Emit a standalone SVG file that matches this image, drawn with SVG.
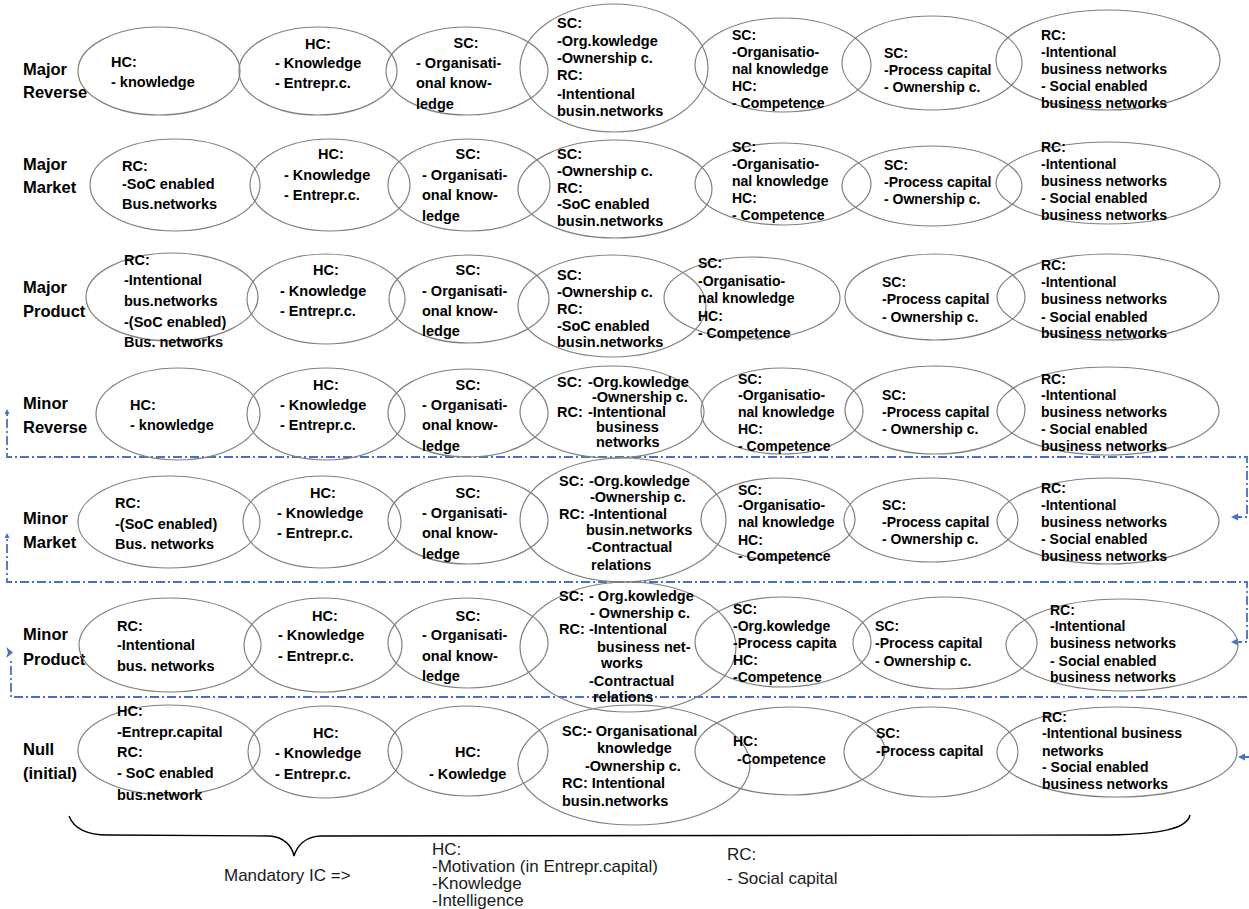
<svg xmlns="http://www.w3.org/2000/svg" width="1249" height="909" viewBox="0 0 1249 909">
<style>
.e{fill:none;stroke:#808080;stroke-width:1.2}
text{font-family:"Liberation Sans",Arial,sans-serif;font-weight:bold;font-size:14.5px;fill:#000}
.s{font-size:14px}
.m{text-anchor:middle}
.lbl{font-size:16.5px}
.n{font-weight:normal;font-size:17px;fill:#1a1a1a}
.d{fill:none;stroke:#4472C4;stroke-width:1.8;stroke-dasharray:9 3 2 3}
.ah{fill:#4472C4}
.br{fill:none;stroke:#000;stroke-width:1.4}
</style>
<g id="labels">
<text class="lbl" x="23" y="75">Major</text><text class="lbl" x="23" y="98">Reverse</text>
<text class="lbl" x="23" y="170">Major</text><text class="lbl" x="23" y="193">Market</text>
<text class="lbl" x="23" y="293">Major</text><text class="lbl" x="23" y="317">Product</text>
<text class="lbl" x="23" y="409">Minor</text><text class="lbl" x="23" y="433">Reverse</text>
<text class="lbl" x="23" y="524">Minor</text><text class="lbl" x="23" y="548">Market</text>
<text class="lbl" x="23" y="640">Minor</text><text class="lbl" x="23" y="665">Product</text>
<text class="lbl" x="23" y="755">Null</text><text class="lbl" x="23" y="779">(initial)</text>
</g>
<g id="connectors">
<path class="d" d="M1233 517 L1247 517 L1247 457 L7 457 L7 412"/>
<path class="d" d="M1233 642 L1247 642 L1247 582 L7 582 L7 536"/>
<path class="d" d="M1240 757 L1256 757 L1256 697 L11 697 L11 658"/>
<polygon class="ah" points="1231,517 1238,513.5 1238,520.5"/>
<polygon class="ah" points="1231,642 1238,638.5 1238,645.5"/>
<polygon class="ah" points="1238,757 1245,753.5 1245,760.5"/>
<polygon class="ah" points="7,409 4.5,414 9.5,414"/>
<polygon class="ah" points="7,533 4.5,538 9.5,538"/>
<polygon class="ah" points="6,647 13,652.5 6,658 8,652.5"/>
</g>
<g id="brace">
<path class="br" d="M69 816 C74 829 88 835 108 835 L270 836 C284 837 292 846 294 856 C297 846 305 837 320 836 L1110 835 C1160 834 1187 829 1190 815"/>
</g>
<g id="legend">
<text class="n" x="224" y="881">Mandatory IC =&gt;</text>
<text class="n" x="432" y="855">HC:</text>
<text class="n" x="432" y="872">-Motivation (in Entrepr.capital)</text>
<text class="n" x="432" y="889">-Knowledge</text>
<text class="n" x="432" y="906">-Intelligence</text>
<text class="n" x="727" y="860">RC:</text>
<text class="n" x="727" y="884">- Social capital</text>
</g>
<!-- Row 1 -->
<g id="n1_1"><ellipse class="e" cx="159" cy="71" rx="81" ry="44"/><text x="111" y="67">HC:</text><text x="111" y="87">- knowledge</text></g>
<g id="n1_2"><ellipse class="e" cx="318" cy="71" rx="79" ry="44"/><text class="m" x="318" y="49">HC:</text><text x="275" y="68">- Knowledge</text><text x="275" y="88">- Entrepr.c.</text></g>
<g id="n1_3"><ellipse class="e" cx="467" cy="71" rx="81" ry="44"/><text class="m" x="466" y="48">SC:</text><text x="416" y="68">- Organisati-</text><text x="416" y="88">onal know-</text><text x="416" y="109">ledge</text></g>
<g id="n1_4"><ellipse class="e" cx="614" cy="68" rx="94" ry="64"/><text x="557" y="28">SC:</text><text x="557" y="46">-Org.kowledge</text><text x="557" y="63">-Ownership c.</text><text x="557" y="80">RC:</text><text x="557" y="99">-Intentional</text><text x="557" y="116">busin.networks</text></g>
<g id="n1_5"><ellipse class="e" cx="783" cy="65" rx="88" ry="47"/><text class="s" x="732" y="40">SC:</text><text class="s" x="732" y="57">-Organisatio-</text><text class="s" x="732" y="74">nal knowledge</text><text class="s" x="732" y="91">HC:</text><text class="s" x="732" y="108">- Competence</text></g>
<g id="n1_6"><ellipse class="e" cx="932" cy="63" rx="90" ry="47"/><text class="s" x="884" y="58">SC:</text><text class="s" x="884" y="75">-Process capital</text><text class="s" x="884" y="92">- Ownership c.</text></g>
<g id="n1_7"><ellipse class="e" cx="1108" cy="60" rx="112" ry="50"/><text class="s" x="1041" y="40">RC:</text><text class="s" x="1041" y="57">-Intentional</text><text class="s" x="1041" y="74">business networks</text><text class="s" x="1041" y="91">- Social enabled</text><text class="s" x="1041" y="108">business networks</text></g>
<!-- Row 2 -->
<g id="n2_1"><ellipse class="e" cx="175" cy="185" rx="85" ry="46"/><text x="122" y="171">RC:</text><text x="122" y="189">-SoC enabled</text><text x="122" y="209">Bus.networks</text></g>
<g id="n2_2"><ellipse class="e" cx="330" cy="185" rx="80" ry="46"/><text class="m" x="331" y="159">HC:</text><text x="284" y="180">- Knowledge</text><text x="284" y="200">- Entrepr.c.</text></g>
<g id="n2_3"><ellipse class="e" cx="469" cy="185" rx="81" ry="46"/><text class="m" x="468" y="159">SC:</text><text x="422" y="180">- Organisati-</text><text x="422" y="200">onal know-</text><text x="422" y="221">ledge</text></g>
<g id="n2_4"><ellipse class="e" cx="615" cy="189" rx="97" ry="49"/><text x="557" y="159">SC:</text><text x="557" y="176">-Ownership c.</text><text x="557" y="193">RC:</text><text x="557" y="209">-SoC enabled</text><text x="557" y="226">busin.networks</text></g>
<g id="n2_5"><ellipse class="e" cx="783" cy="184" rx="88" ry="41"/><text class="s" x="732" y="152">SC:</text><text class="s" x="732" y="169">-Organisatio-</text><text class="s" x="732" y="186">nal knowledge</text><text class="s" x="732" y="203">HC:</text><text class="s" x="732" y="220">- Competence</text></g>
<g id="n2_6"><ellipse class="e" cx="932" cy="186" rx="90" ry="40"/><text class="s" x="884" y="170">SC:</text><text class="s" x="884" y="187">-Process capital</text><text class="s" x="884" y="204">- Ownership c.</text></g>
<g id="n2_7"><ellipse class="e" cx="1108" cy="183" rx="112" ry="41"/><text class="s" x="1041" y="152">RC:</text><text class="s" x="1041" y="169">-Intentional</text><text class="s" x="1041" y="186">business networks</text><text class="s" x="1041" y="203">- Social enabled</text><text class="s" x="1041" y="220">business networks</text></g>
<!-- Row 3 -->
<g id="n3_1"><ellipse class="e" cx="172" cy="297" rx="86" ry="44"/><text x="124" y="265">RC:</text><text x="124" y="285">-Intentional</text><text x="124" y="306">bus.networks</text><text x="124" y="327">-(SoC enabled)</text><text x="124" y="347">Bus. networks</text></g>
<g id="n3_2"><ellipse class="e" cx="326" cy="299" rx="79" ry="45"/><text class="m" x="326" y="275">HC:</text><text x="280" y="296">- Knowledge</text><text x="280" y="316">- Entrepr.c.</text></g>
<g id="n3_3"><ellipse class="e" cx="469" cy="299" rx="80" ry="44"/><text class="m" x="468" y="275">SC:</text><text x="422" y="296">- Organisati-</text><text x="422" y="316">onal know-</text><text x="422" y="336">ledge</text></g>
<g id="n3_4"><ellipse class="e" cx="612" cy="306" rx="94" ry="51"/><text x="557" y="280">SC:</text><text x="557" y="297">-Ownership c.</text><text x="557" y="314">RC:</text><text x="557" y="331">-SoC enabled</text><text x="557" y="347">busin.networks</text></g>
<g id="n3_5"><ellipse class="e" cx="752" cy="298" rx="88" ry="41"/><text class="s" x="698" y="268">SC:</text><text class="s" x="698" y="286">-Organisatio-</text><text class="s" x="698" y="303">nal knowledge</text><text class="s" x="698" y="321">HC:</text><text class="s" x="698" y="338">- Competence</text></g>
<g id="n3_6"><ellipse class="e" cx="935" cy="297" rx="90" ry="43"/><text class="s" x="882" y="287">SC:</text><text class="s" x="882" y="304">-Process capital</text><text class="s" x="882" y="322">- Ownership c.</text></g>
<g id="n3_7"><ellipse class="e" cx="1108" cy="297" rx="111" ry="43"/><text class="s" x="1041" y="270">RC:</text><text class="s" x="1041" y="287">-Intentional</text><text class="s" x="1041" y="304">business networks</text><text class="s" x="1041" y="322">- Social enabled</text><text class="s" x="1041" y="338">business networks</text></g>
<!-- Row 4 -->
<g id="n4_1"><ellipse class="e" cx="178" cy="414" rx="82" ry="46"/><text x="130" y="410">HC:</text><text x="130" y="430">- knowledge</text></g>
<g id="n4_2"><ellipse class="e" cx="326" cy="414" rx="79" ry="46"/><text class="m" x="326" y="390">HC:</text><text x="280" y="410">- Knowledge</text><text x="280" y="430">- Entrepr.c.</text></g>
<g id="n4_3"><ellipse class="e" cx="468" cy="413" rx="80" ry="44"/><text class="m" x="468" y="390">SC:</text><text x="422" y="410">- Organisati-</text><text x="422" y="430">onal know-</text><text x="422" y="451">ledge</text></g>
<g id="n4_4"><ellipse class="e" cx="612" cy="412" rx="92" ry="46"/><text x="557" y="387">SC:</text><text x="588" y="387">-Org.kowledge</text><text x="592" y="402">-Ownership c.</text><text x="557" y="417">RC:</text><text x="588" y="417">-Intentional</text><text x="596" y="432">business</text><text x="596" y="447">networks</text></g>
<g id="n4_5"><ellipse class="e" cx="782" cy="411" rx="81" ry="43"/><text class="s" x="738" y="384">SC:</text><text class="s" x="738" y="400">-Organisatio-</text><text class="s" x="738" y="417">nal knowledge</text><text class="s" x="738" y="434">HC:</text><text class="s" x="738" y="451">- Competence</text></g>
<g id="n4_6"><ellipse class="e" cx="935" cy="410" rx="90" ry="44"/><text class="s" x="882" y="400">SC:</text><text class="s" x="882" y="417">-Process capital</text><text class="s" x="882" y="434">- Ownership c.</text></g>
<g id="n4_7"><ellipse class="e" cx="1108" cy="411" rx="111" ry="44"/><text class="s" x="1041" y="384">RC:</text><text class="s" x="1041" y="400">-Intentional</text><text class="s" x="1041" y="417">business networks</text><text class="s" x="1041" y="434">- Social enabled</text><text class="s" x="1041" y="451">business networks</text></g>
<!-- Row 5 -->
<g id="n5_1"><ellipse class="e" cx="169" cy="522" rx="91" ry="46"/><text x="115" y="508">RC:</text><text x="115" y="529">-(SoC enabled)</text><text x="115" y="549">Bus. networks</text></g>
<g id="n5_2"><ellipse class="e" cx="322" cy="522" rx="79" ry="46"/><text class="m" x="323" y="498">HC:</text><text x="277" y="518">- Knowledge</text><text x="277" y="538">- Entrepr.c.</text></g>
<g id="n5_3"><ellipse class="e" cx="468" cy="520" rx="80" ry="44"/><text class="m" x="468" y="498">SC:</text><text x="422" y="518">- Organisati-</text><text x="422" y="538">onal know-</text><text x="422" y="559">ledge</text></g>
<g id="n5_4"><ellipse class="e" cx="623" cy="520" rx="103" ry="62"/><text x="559" y="486">SC:</text><text x="589" y="486">-Org.kowledge</text><text x="590" y="502">-Ownership c.</text><text x="559" y="519">RC:</text><text x="589" y="519">-Intentional</text><text x="586" y="535">busin.networks</text><text x="587" y="552">-Contractual</text><text x="591" y="570">relations</text></g>
<g id="n5_5"><ellipse class="e" cx="778" cy="519" rx="77" ry="41"/><text class="s" x="738" y="495">SC:</text><text class="s" x="738" y="510">-Organisatio-</text><text class="s" x="738" y="527">nal knowledge</text><text class="s" x="738" y="545">HC:</text><text class="s" x="738" y="561">- Competence</text></g>
<g id="n5_6"><ellipse class="e" cx="931" cy="520" rx="87" ry="42"/><text class="s" x="882" y="510">SC:</text><text class="s" x="882" y="527">-Process capital</text><text class="s" x="882" y="544">- Ownership c.</text></g>
<g id="n5_7"><ellipse class="e" cx="1108" cy="521" rx="111" ry="43"/><text class="s" x="1041" y="493">RC:</text><text class="s" x="1041" y="510">-Intentional</text><text class="s" x="1041" y="527">business networks</text><text class="s" x="1041" y="544">- Social enabled</text><text class="s" x="1041" y="561">business networks</text></g>
<!-- Row 6 -->
<g id="n6_1"><ellipse class="e" cx="170" cy="645" rx="91" ry="47"/><text x="117" y="631">RC:</text><text x="117" y="650">-Intentional</text><text x="117" y="671">bus. networks</text></g>
<g id="n6_2"><ellipse class="e" cx="323" cy="645" rx="79" ry="47"/><text class="m" x="325" y="621">HC:</text><text x="278" y="640">- Knowledge</text><text x="278" y="661">- Entrepr.c.</text></g>
<g id="n6_3"><ellipse class="e" cx="468" cy="643" rx="80" ry="45"/><text class="m" x="468" y="621">SC:</text><text x="422" y="640">- Organisati-</text><text x="422" y="661">onal know-</text><text x="422" y="681">ledge</text></g>
<g id="n6_4"><ellipse class="e" cx="628" cy="647" rx="108" ry="65"/><text x="559" y="601">SC:</text><text x="589" y="601">- Org.kowledge</text><text x="590" y="618">- Ownership c.</text><text x="559" y="634">RC:</text><text x="589" y="634">-Intentional</text><text x="597" y="652">business net-</text><text x="601" y="668">works</text><text x="589" y="686">-Contractual</text><text x="593" y="702">relations</text></g>
<g id="n6_5"><ellipse class="e" cx="783" cy="642" rx="88" ry="45"/><text class="s" x="733" y="614">SC:</text><text class="s" x="733" y="631">-Org.kowledge</text><text class="s" x="733" y="648">-Process capita</text><text class="s" x="733" y="665">HC:</text><text class="s" x="733" y="682">-Competence</text></g>
<g id="n6_6"><ellipse class="e" cx="945" cy="643" rx="92" ry="46"/><text class="s" x="875" y="631">SC:</text><text class="s" x="875" y="648">-Process capital</text><text class="s" x="875" y="666">- Ownership c.</text></g>
<g id="n6_7"><ellipse class="e" cx="1122" cy="645" rx="116" ry="46"/><text class="s" x="1050" y="615">RC:</text><text class="s" x="1050" y="631">-Intentional</text><text class="s" x="1050" y="648">business networks</text><text class="s" x="1050" y="666">- Social enabled</text><text class="s" x="1050" y="682">business networks</text></g>
<!-- Row 7 -->
<g id="n7_1"><ellipse class="e" cx="169" cy="750" rx="91" ry="45"/><text x="117" y="716">HC:</text><text x="117" y="737">-Entrepr.capital</text><text x="117" y="757">RC:</text><text x="117" y="778">- SoC enabled</text><text x="117" y="800">bus.network</text></g>
<g id="n7_2"><ellipse class="e" cx="325" cy="752" rx="77" ry="46"/><text class="m" x="326" y="738">HC:</text><text x="275" y="758">- Knowledge</text><text x="275" y="779">- Entrepr.c.</text></g>
<g id="n7_3"><ellipse class="e" cx="468" cy="751" rx="80" ry="45"/><text class="m" x="468" y="757">HC:</text><text x="429" y="779">- Kowledge</text></g>
<g id="n7_4"><ellipse class="e" cx="634" cy="765" rx="116" ry="60"/><text x="562" y="736">SC:- Organisational</text><text x="597" y="753">knowledge</text><text x="585" y="771">-Ownership c.</text><text x="562" y="788">RC: Intentional</text><text x="562" y="806">busin.networks</text></g>
<g id="n7_5"><ellipse class="e" cx="790" cy="751" rx="95" ry="44"/><text class="s" x="733" y="746">HC:</text><text class="s" x="737" y="764">-Competence</text></g>
<g id="n7_6"><ellipse class="e" cx="931" cy="752" rx="87" ry="45"/><text class="s" x="876" y="738">SC:</text><text class="s" x="876" y="756">-Process capital</text></g>
<g id="n7_7"><ellipse class="e" cx="1117" cy="752" rx="120" ry="45"/><text class="s" x="1042" y="722">RC:</text><text class="s" x="1042" y="738">-Intentional business</text><text class="s" x="1042" y="756">networks</text><text class="s" x="1042" y="772">- Social enabled</text><text class="s" x="1042" y="789">business networks</text></g>
</svg>
